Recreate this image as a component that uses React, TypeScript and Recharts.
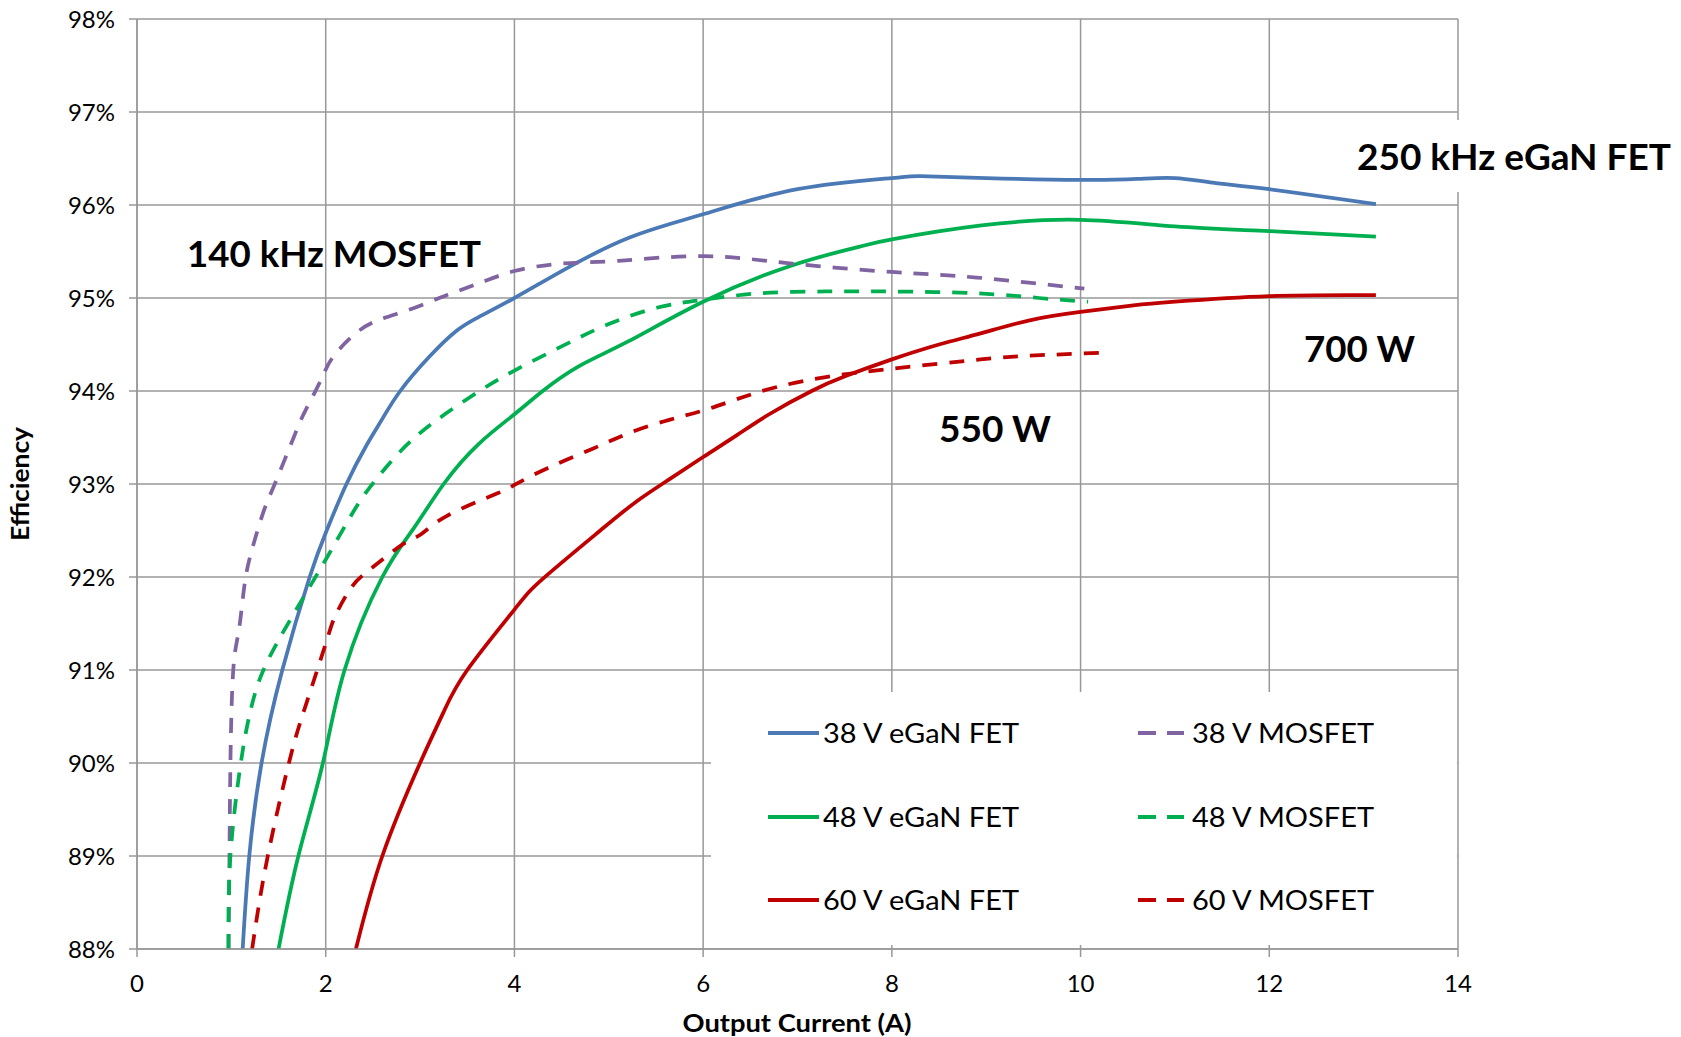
import { CartesianGrid, Legend, Line, LineChart, XAxis, YAxis } from "recharts"

// Output current (A) / efficiency (%)
const egan38Current = [1.12, 1.19, 1.32, 1.54, 1.83, 2.01, 2.22, 2.44, 2.6, 2.79, 3.1, 3.39, 3.63, 4.0, 4.52, 5.22, 6.0, 7.0, 8.0, 8.3, 9.0, 10.0, 10.6, 11.0, 11.4, 12.0, 13.13]
const egan38Eff = [88.0, 89.0, 90.0, 91.0, 92.0, 92.5, 93.0, 93.43, 93.7, 94.0, 94.37, 94.65, 94.8, 95.0, 95.3, 95.65, 95.9, 96.17, 96.29, 96.31, 96.29, 96.27, 96.28, 96.29, 96.24, 96.17, 96.01]

const mos38Current = [0.97, 0.98, 0.99, 1.02, 1.08, 1.14, 1.22, 1.34, 1.46, 1.68, 1.79, 1.95, 2.08, 2.33, 2.58, 2.93, 3.28, 3.63, 4.0, 4.5, 5.1, 6.0, 6.94, 8.0, 8.9, 10.04]
const mos38Eff = [88.0, 89.0, 90.0, 91.0, 91.43, 91.92, 92.3, 92.7, 93.0, 93.55, 93.8, 94.12, 94.37, 94.63, 94.77, 94.89, 95.03, 95.16, 95.29, 95.37, 95.4, 95.45, 95.37, 95.28, 95.22, 95.1]

const egan48Current = [1.5, 1.71, 1.97, 2.2, 2.6, 2.93, 3.25, 3.62, 4.0, 4.3, 4.69, 5.2, 6.0, 6.94, 7.65, 8.0, 8.95, 10.0, 11.0, 12.0, 13.13]
const egan48Eff = [88.0, 89.0, 90.0, 91.0, 92.0, 92.52, 93.0, 93.43, 93.75, 94.0, 94.27, 94.53, 94.96, 95.35, 95.55, 95.63, 95.78, 95.84, 95.77, 95.72, 95.66]

const mos48Current = [0.97, 0.99, 1.1, 1.2, 1.34, 1.63, 1.99, 2.28, 2.48, 2.8, 3.18, 3.63, 4.0, 4.5, 5.0, 5.53, 6.0, 6.59, 7.3, 8.0, 8.9, 9.56, 10.08]
const mos48Eff = [88.0, 89.0, 90.0, 90.55, 91.0, 91.55, 92.17, 92.68, 92.98, 93.36, 93.69, 94.0, 94.22, 94.48, 94.72, 94.9, 94.98, 95.05, 95.07, 95.07, 95.05, 95.0, 94.96]

const egan60Current = [2.32, 2.6, 3.0, 3.25, 3.5, 4.0, 4.3, 4.91, 5.29, 5.64, 6.0, 6.35, 6.7, 7.15, 7.51, 8.0, 8.5, 8.94, 9.46, 10.0, 10.56, 11.0, 12.0, 13.13]
const egan60Eff = [88.0, 89.0, 90.0, 90.55, 91.0, 91.65, 91.98, 92.5, 92.81, 93.05, 93.29, 93.52, 93.75, 94.0, 94.16, 94.34, 94.5, 94.62, 94.76, 94.85, 94.92, 94.96, 95.02, 95.03]

const mos60Current = [1.22, 1.38, 1.61, 1.75, 1.91, 2.03, 2.11, 2.28, 2.48, 2.8, 3.01, 3.29, 3.82, 4.0, 4.35, 4.83, 5.22, 5.64, 6.0, 6.35, 6.77, 7.3, 8.0, 8.94, 9.46, 10.2]
const mos60Eff = [88.0, 88.97, 90.0, 90.5, 91.0, 91.38, 91.6, 91.9, 92.09, 92.34, 92.46, 92.66, 92.9, 92.99, 93.17, 93.38, 93.55, 93.69, 93.79, 93.91, 94.04, 94.15, 94.24, 94.34, 94.38, 94.41]

const xTicks = [0, 2, 4, 6, 8, 10, 12, 14]
const yTicks = [88, 89, 90, 91, 92, 93, 94, 95, 96, 97, 98]

const BLUE = "#4a79b5"
const PURPLE = "#8064a2"
const GREEN = "#00b050"
const RED = "#c00000"
const GRID = "#989898"
const DASH = "15 12"
const FONT = "Lato, 'Open Sans', sans-serif"

function toPoints(xs: number[], ys: number[]) {
  return xs.map((x, i) => ({ current: x, eff: ys[i] }))
}

const series = [
  { name: "38 V eGaN FET", data: toPoints(egan38Current, egan38Eff), color: BLUE, dashed: false },
  { name: "48 V eGaN FET", data: toPoints(egan48Current, egan48Eff), color: GREEN, dashed: false },
  { name: "60 V eGaN FET", data: toPoints(egan60Current, egan60Eff), color: RED, dashed: false },
  { name: "38 V MOSFET", data: toPoints(mos38Current, mos38Eff), color: PURPLE, dashed: true },
  { name: "48 V MOSFET", data: toPoints(mos48Current, mos48Eff), color: GREEN, dashed: true },
  { name: "60 V MOSFET", data: toPoints(mos60Current, mos60Eff), color: RED, dashed: true },
]

function LegendBox() {
  const rows = [41, 125, 208]
  return (
    <svg width={746} height={253} style={{ display: "block" }}>
      {series.map((s, i) => {
        const col = i < 3 ? 0 : 1
        const cy = rows[i % 3]
        const x1 = col === 0 ? 57 : 427
        const x2 = col === 0 ? 108 : 473
        const tx = col === 0 ? 112 : 481
        const tw = col === 0 ? 196 : 182
        return (
          <g key={s.name}>
            <line
              x1={x1}
              x2={x2}
              y1={cy}
              y2={cy}
              stroke={s.color}
              strokeWidth={4}
              strokeDasharray={s.dashed ? "18 11" : undefined}
            />
            <text
              x={tx}
              y={cy + 10}
              fontFamily={FONT}
              fontSize={26}
              fill="#000"
              textLength={tw}
              lengthAdjust="spacingAndGlyphs"
            >
              {s.name}
            </text>
          </g>
        )
      })}
    </svg>
  )
}

export default function App() {
  return (
    <div style={{ position: "absolute", left: 0, top: 0, width: 1681, height: 1037, background: "#fff" }}>
      <LineChart width={1681} height={1037} margin={{ top: 19, right: 223, bottom: 28, left: 77 }}>
        <CartesianGrid stroke={GRID} strokeWidth={1.5} />
        <XAxis
          dataKey="current"
          type="number"
          domain={[0, 14]}
          ticks={xTicks}
          allowDataOverflow
          height={60}
          tickSize={8}
          tickMargin={18}
          stroke={GRID}
          strokeWidth={1.5}
          tick={{ fill: "#000", fontSize: 24, fontFamily: FONT }}
        />
        <YAxis
          type="number"
          domain={[88, 98]}
          ticks={yTicks}
          allowDataOverflow
          width={60}
          tickSize={8}
          tickMargin={14}
          stroke={GRID}
          strokeWidth={1.5}
          tickFormatter={(v) => `${v}%`}
          tick={{ fill: "#000", fontSize: 24, fontFamily: FONT }}
        />
        <Legend
          layout="horizontal"
          verticalAlign="middle"
          align="center"
          wrapperStyle={{ left: 711, top: 692, width: 746, height: 253, background: "#fff" }}
          content={() => <LegendBox />}
        />
        {series.map((s) => (
          <Line
            key={s.name}
            name={s.name}
            data={s.data}
            dataKey="eff"
            type="natural"
            stroke={s.color}
            strokeWidth={3.75}
            strokeDasharray={s.dashed ? DASH : undefined}
            dot={false}
            activeDot={false}
            isAnimationActive={false}
          />
        ))}
      </LineChart>
      <svg
        width={1681}
        height={1037}
        style={{ position: "absolute", left: 0, top: 0, pointerEvents: "none" }}
      >
        <rect x={1350} y={120} width={331} height={72} fill="#fff" />
        <g fontFamily={FONT} fontWeight="bold" fontSize={37} fill="#000">
          <text x={187} y={267} textLength={294} lengthAdjust="spacingAndGlyphs">140 kHz MOSFET</text>
          <text x={1357} y={170} textLength={314} lengthAdjust="spacingAndGlyphs">250 kHz eGaN FET</text>
          <text x={1304} y={362} textLength={111} lengthAdjust="spacingAndGlyphs">700 W</text>
          <text x={939} y={442} textLength={112} lengthAdjust="spacingAndGlyphs">550 W</text>
        </g>
        <g fontFamily={FONT} fontWeight="bold" fontSize={25} fill="#000">
          <text x={797} y={1032} textAnchor="middle" textLength={229} lengthAdjust="spacingAndGlyphs">Output Current (A)</text>
          <text transform="translate(29,484) rotate(-90)" textAnchor="middle" textLength={114} lengthAdjust="spacingAndGlyphs">Efficiency</text>
        </g>
      </svg>
    </div>
  )
}
